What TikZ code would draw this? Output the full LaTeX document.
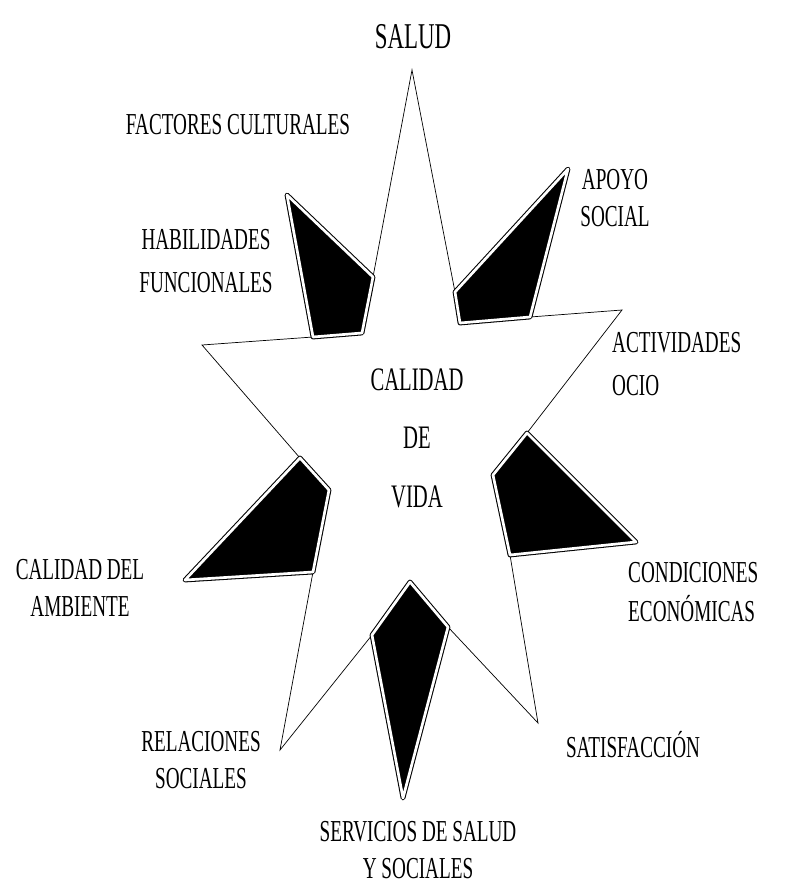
\documentclass[tikz,border=0pt]{standalone}
\usepackage{fontspec}
\setmainfont{Liberation Serif}[FakeStretch=0.63]
\begin{document}
\begin{tikzpicture}[x=0.03cm,y=-0.03cm,
  lbl/.style={font=\fontsize{26}{31}\selectfont,inner sep=0pt},
  notch/.style={fill=black,draw=black,line width=0.9pt,double=white,double distance=2.3pt,line join=round}]
\useasboundingbox (0,0) rectangle (787,889);
% white star
\draw[line width=0.6pt,fill=white] (412,70) -- (455,292) -- (460,323) -- (530,317) -- (622,310)
  -- (527,433) -- (493,475) -- (510,555) -- (538,723) -- (448,627) -- (410,582) -- (372,635)
  -- (280,750) -- (313,572) -- (329,490) -- (300,458) -- (202,345) -- (313,337) -- (362,333)
  -- (373,277) -- cycle;
% dark pieces in the notches
\draw[notch] (455,292) -- (568,169) -- (530,317) -- (460,323) -- cycle;
\draw[notch] (527,433) -- (636,542) -- (510,555) -- (493,475) -- cycle;
\draw[notch] (410,582) -- (448,627) -- (403,798) -- (372,635) -- cycle;
\draw[notch] (300,458) -- (329,490) -- (313,572) -- (185,580) -- cycle;
\draw[notch] (287,195) -- (373,277) -- (362,333) -- (313,337) -- cycle;
% labels
\node[lbl,font=\fontsize{31}{34}\selectfont] (salud) at (413,37) {SALUD};
\node[lbl] (factores) at (238,125) {FACTORES CULTURALES};
\node[lbl,align=center] (apoyo) at (615,198) {APOYO\\SOCIAL};
\node[lbl,align=center,font=\fontsize{26}{37}\selectfont] (habilidades) at (206,261) {HABILIDADES\\FUNCIONALES};
\node[lbl,align=left,anchor=west,font=\fontsize{26}{37}\selectfont] (actividades) at (612,364) {ACTIVIDADES\\OCIO};
\node[lbl,align=center,font=\fontsize{28}{50}\selectfont] (centro) at (417,438) {CALIDAD\\DE\\VIDA};
\node[lbl,align=center] (ambiente) at (80,588) {CALIDAD DEL\\AMBIENTE};
\node[lbl,align=left,anchor=west,font=\fontsize{26}{34}\selectfont] (condiciones) at (628,592) {CONDICIONES\\ECONÓMICAS};
\node[lbl,align=center] (relaciones) at (201,760) {RELACIONES\\SOCIALES};
\node[lbl] (satisfaccion) at (633,745) {SATISFACCIÓN};
\node[lbl,align=center] (servicios) at (418,850) {SERVICIOS DE SALUD\\Y SOCIALES};
\end{tikzpicture}
\end{document}
